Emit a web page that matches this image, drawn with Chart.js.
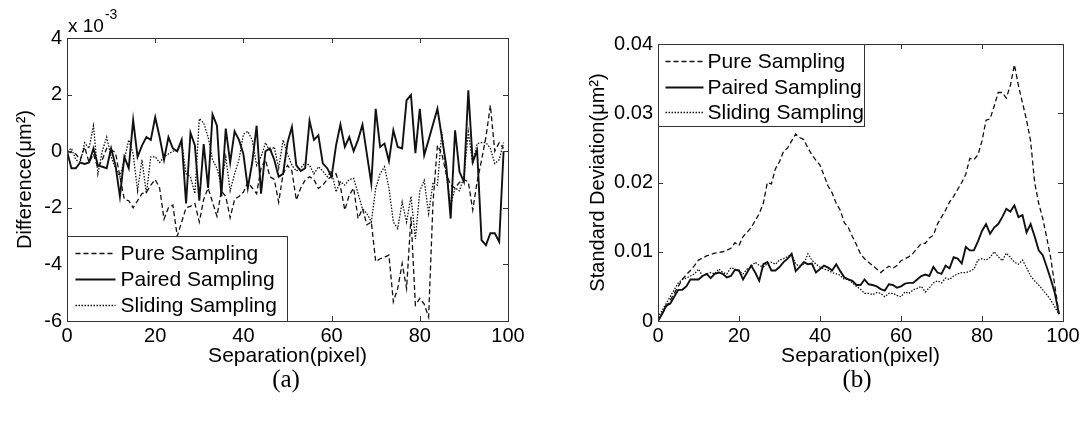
<!DOCTYPE html>
<html>
<head>
<meta charset="utf-8">
<script src="https://cdn.jsdelivr.net/npm/chart.js@4.4.0/dist/chart.umd.min.js"></script>
<style>
  html, body { margin: 0; padding: 0; background: #fff; }
  #wrap { position: relative; width: 1091px; height: 426px; overflow: hidden; }
  .panel { position: absolute; top: 0; height: 370px; }
  .cap { position: absolute; top: 365px; font: 25px "Liberation Serif", "Times New Roman", serif; color: #000; transform: translateX(-50%); }
</style>
</head>
<body>
<div id="wrap">
  <div class="panel" style="left:0;width:545px"><canvas id="diffChart" width="545" height="370"></canvas></div>
  <div class="panel" style="left:545px;width:546px"><canvas id="stdChart" width="546" height="370"></canvas></div>
  <div class="cap" style="left:286px">(a)</div>
  <div class="cap" style="left:857px">(b)</div>
</div>
<script>
// separation in pixels (shared x values)
const separation = [
  0, 1, 2, 3, 4, 5, 6, 7, 8, 9, 10, 11, 12, 13, 14, 15, 16, 17, 18, 19,
  20, 21, 22, 23, 24, 25, 26, 27, 28, 29, 30, 31, 32, 33, 34, 35, 36, 37, 38, 39,
  40, 41, 42, 43, 44, 45, 46, 47, 48, 49, 50, 51, 52, 53, 54, 55, 56, 57, 58, 59,
  60, 61, 62, 63, 64, 65, 66, 67, 68, 69, 70, 71, 72, 73, 74, 75, 76, 77, 78, 79,
  80, 81, 82, 83, 84, 85, 86, 87, 88, 89, 90, 91, 92, 93, 94, 95, 96, 97, 98, 99
];

// (a) difference, in units of 1e-3 um^2
const diffPure = [
  0, -0.05, -0.1, -0.3, 0.15, -0.4, -0.1, -0.6, -0.3, 0.1, 0.05, -0.05, -0.9, -1.7, -1.75, -2.0, -1.75, -1.5, -1.45, -1.2,
  -1.0, -1.3, -2.4, -2.0, -1.9, -3.0, -2.5, -2.0, -1.95, -1.85, -2.5, -1.7, -1.3, -1.8, -2.3, -1.4, -1.6, -2.35, -1.7, -1.6,
  -1.45, -1.1, -1.3, -1.5, -0.6, -0.3, -0.9, -1.0, -1.8, -0.8, -0.5, -0.7, -1.73, -1.3, -1.02, -0.9, -1.0, -1.32, -1.2, -1.0,
  -0.9, -0.8, -1.26, -2.08, -1.55, -1.3, -2.38, -2.03, -2.6, -2.5, -3.9, -3.8, -3.75, -3.67, -5.32, -4.85, -3.97, -4.85, -2.32, -5.44,
  -5.2, -5.4, -5.86, -1.79, 0.21, -0.1, -0.8, -1.2, -1.3, -1.1, -1.0, -1.08, -2.08, -1.08, -0.32, 0.5, 1.62, 0.0, 0.3, 0.1
];
const diffPaired = [
  0, -0.6, -0.6, -0.4, -0.45, -0.4, 0.1, -0.5, -0.55, -0.6, 0.1, -0.5, -1.6, -0.2, -0.6, 1.1, -0.2, 0.2, 0.5, 0.4,
  1.2, 0.5, -0.3, 0.5, 0.1, 0.0, 0.4, -1.85, 0.65, 0.2, -1.75, 0.25, -1.3, 1.3, 0.9, -1.6, 0.8, -0.4, 0.7, 0.4,
  -0.1, -1.3, -0.4, 0.9, -1.5, 0.0, 0.1, -0.3, -0.9, -0.8, 0.3, 0.86, -0.5, -0.7, -0.6, 1.08, 0.4, 0.56, -0.43, -0.6,
  -0.9, 0.2, 0.94, 0.15, 0.5, 0.0, 0.4, 0.94, -0.1, -1.14, 1.5, 0.15, 0.27, -0.35, 0.74, 0.15, 0.1, 1.8, 1.98, -0.07,
  1.5, -0.14, 0.4, 0.95, 1.5, 0.5, -0.5, -2.38, 0.74, -0.73, -1.08, 2.15, -0.38, 0.03, -3.14, -3.32, -2.9, -2.9, -3.2, 0.0
];
const diffSliding = [
  0, 0.1, -0.3, -0.4, 0.3, 0.1, 0.9, -0.8, 0.0, 0.5, -0.2, -0.6, -0.9, -0.3, 0.4, -0.1, -1.4, -0.3, -1.5, -0.2,
  -0.2, -0.4, -0.2, -0.1, 0.0, 0.0, 0.3, -0.8, -0.9, -1.5, 1.15, 1.0, 0.5, -0.3, -0.6, -1.2, -0.2, -1.4, -0.8, -0.3,
  0.6, 0.7, 0.4, -0.5, -0.2, 0.3, 0.0, 0.15, -0.6, 0.4, -0.1, -0.5, -0.7, -0.6, -0.4, -0.5, -0.8, -0.55, -0.7, -0.9,
  -0.7, -1.44, -1.08, -1.2, -1.0, -0.96, -1.5, -2.03, -2.2, -2.5, -1.32, -0.8, -0.55, -1.3, -2.5, -2.73, -1.79, -2.5, -1.6, -3.1,
  -1.4, -1.03, -2.2, -1.1, -1.2, 0.68, -0.8, -1.9, -1.3, -1.4, -0.9, 0.68, -0.44, 0.27, 0.3, 0.3, 0.1, -0.44, -0.3, 0.3
];

// (b) standard deviation, um^2
const stdPure = [
  0, 0.001, 0.002, 0.003, 0.004, 0.005, 0.006, 0.0067, 0.0073, 0.008, 0.0088, 0.0091, 0.0094, 0.0096, 0.0098, 0.0099, 0.01, 0.0102, 0.0105, 0.0113,
  0.0109, 0.0122, 0.0128, 0.0135, 0.0145, 0.0155, 0.017, 0.02, 0.0198, 0.022, 0.023, 0.0245, 0.025, 0.026, 0.027, 0.0265, 0.0262, 0.025, 0.024, 0.0232,
  0.0225, 0.021, 0.0195, 0.0185, 0.017, 0.016, 0.0142, 0.0135, 0.0122, 0.011, 0.0097, 0.009, 0.0085, 0.008, 0.0075, 0.007, 0.0075, 0.0079, 0.0076, 0.008,
  0.0087, 0.009, 0.0093, 0.0098, 0.0105, 0.0112, 0.0112, 0.012, 0.0124, 0.014, 0.015, 0.016, 0.0172, 0.018, 0.019, 0.02, 0.0212, 0.0235, 0.0233, 0.024,
  0.026, 0.029, 0.0292, 0.031, 0.033, 0.033, 0.0322, 0.034, 0.037, 0.034, 0.0315, 0.029, 0.026, 0.02, 0.017, 0.0148, 0.012, 0.009, 0.005, 0.001
];
const stdPaired = [
  0, 0.001, 0.0022, 0.0025, 0.0035, 0.0045, 0.0045, 0.005, 0.006, 0.006, 0.006, 0.0065, 0.0068, 0.0062, 0.0068, 0.007, 0.0068, 0.0063, 0.0065, 0.0074,
  0.0073, 0.006, 0.007, 0.008, 0.007, 0.0058, 0.0082, 0.0085, 0.0073, 0.0073, 0.0078, 0.0085, 0.009, 0.0097, 0.0072, 0.0078, 0.0085, 0.0082, 0.0083, 0.007,
  0.0075, 0.008, 0.0077, 0.0073, 0.0082, 0.0072, 0.0063, 0.006, 0.0058, 0.0052, 0.0052, 0.006, 0.0053, 0.0052, 0.005, 0.0046, 0.0044, 0.0053, 0.0052, 0.0048,
  0.005, 0.0054, 0.0055, 0.0055, 0.006, 0.0065, 0.0067, 0.0065, 0.0078, 0.007, 0.0068, 0.008, 0.0076, 0.0092, 0.009, 0.0083, 0.0107, 0.0102, 0.0102, 0.0115,
  0.013, 0.014, 0.0126, 0.0135, 0.014, 0.015, 0.0162, 0.0158, 0.0167, 0.015, 0.0153, 0.0128, 0.014, 0.0122, 0.0102, 0.0095, 0.0078, 0.006, 0.004, 0.001
];
const stdSliding = [
  0.0005, 0.0015, 0.0025, 0.0035, 0.0045, 0.0055, 0.006, 0.0062, 0.0065, 0.0068, 0.0075, 0.0065, 0.0068, 0.007, 0.0068, 0.0075, 0.007, 0.0068, 0.0077, 0.0075,
  0.0072, 0.0068, 0.0075, 0.0078, 0.0085, 0.008, 0.0078, 0.0083, 0.0085, 0.0082, 0.0088, 0.009, 0.0093, 0.0096, 0.0082, 0.008, 0.0082, 0.0097, 0.0088, 0.0082,
  0.0078, 0.0075, 0.0073, 0.007, 0.0068, 0.0066, 0.006, 0.006, 0.0055, 0.005, 0.0046, 0.004, 0.004, 0.0038, 0.0041, 0.004, 0.0035, 0.004, 0.004, 0.0037,
  0.0035, 0.0042, 0.004, 0.0045, 0.0047, 0.005, 0.0042, 0.0048, 0.0055, 0.0058, 0.0055, 0.0062, 0.006, 0.0065, 0.0068, 0.007, 0.007, 0.0072, 0.0075, 0.0088,
  0.009, 0.0088, 0.0092, 0.01, 0.0093, 0.0087, 0.0098, 0.0092, 0.0085, 0.0082, 0.0088, 0.0077, 0.0065, 0.0058, 0.0052, 0.0045, 0.0038, 0.003, 0.002, 0.001
];

const seriesNames = ['Pure Sampling', 'Paired Sampling', 'Sliding Sampling'];
const xTicks = [0, 20, 40, 60, 80, 100];

const INK = '#111';
const FONT = '"Liberation Sans", Arial, sans-serif';
const lineStyles = [
  { borderDash: [5, 3], borderWidth: 1.3 },
  { borderDash: [], borderWidth: 1.9 },
  { borderDash: [1.5, 1.5], borderWidth: 1.3 }
];

function toPoints(ys) {
  return ys.map((y, i) => ({ x: separation[i], y: y }));
}

function makeDatasets(list) {
  return list.map((ys, i) => ({
    label: seriesNames[i],
    data: toPoints(ys),
    borderColor: INK,
    borderDash: lineStyles[i].borderDash,
    borderWidth: lineStyles[i].borderWidth,
    pointRadius: 0,
    tension: 0,
    fill: false
  }));
}

// box frame, inward ticks, in-axes legend, exponent note
const matlabAxes = {
  id: 'matlabAxes',
  afterDatasetsDraw(chart, args, opts) {
    const { ctx, chartArea: a, scales: { x, y } } = chart;
    ctx.save();
    ctx.strokeStyle = '#333';
    ctx.lineWidth = 1;
    ctx.strokeRect(Math.round(a.left) + 0.5, Math.round(a.top) + 0.5, Math.round(a.right - a.left), Math.round(a.bottom - a.top));
    ctx.beginPath();
    x.ticks.forEach(t => {
      const px = Math.round(x.getPixelForValue(t.value)) + 0.5;
      ctx.moveTo(px, a.bottom); ctx.lineTo(px, a.bottom - 5);
      ctx.moveTo(px, a.top); ctx.lineTo(px, a.top + 5);
    });
    y.ticks.forEach(t => {
      const py = Math.round(y.getPixelForValue(t.value)) + 0.5;
      ctx.moveTo(a.left, py); ctx.lineTo(a.left + 5, py);
      ctx.moveTo(a.right, py); ctx.lineTo(a.right - 5, py);
    });
    ctx.stroke();

    // legend box
    const lw = opts.width, lh = opts.height;
    const lx = Math.round(a.left) + 0.5;
    const ly = opts.corner === 'bottom' ? Math.round(a.bottom - lh) + 0.5 : Math.round(a.top) + 0.5;
    ctx.fillStyle = '#fff';
    ctx.fillRect(lx, ly, lw, lh);
    ctx.strokeStyle = '#333';
    ctx.strokeRect(lx, ly, lw, lh);
    ctx.font = '21px ' + FONT;
    ctx.textBaseline = 'middle';
    ctx.textAlign = 'left';
    chart.data.datasets.forEach((ds, i) => {
      const ry = ly + opts.rows[i];
      ctx.strokeStyle = INK;
      ctx.lineWidth = ds.borderWidth;
      ctx.setLineDash(ds.borderDash);
      ctx.beginPath();
      ctx.moveTo(lx + opts.sample[0], ry);
      ctx.lineTo(lx + opts.sample[1], ry);
      ctx.stroke();
      ctx.setLineDash([]);
      ctx.fillStyle = '#000';
      ctx.fillText(ds.label, lx + opts.textX, ry + 1);
    });

    if (opts.exponent) {
      ctx.fillStyle = '#000';
      ctx.textBaseline = 'alphabetic';
      ctx.font = '19px ' + FONT;
      ctx.fillText('x 10', a.left + 1, a.top - 6);
      const w = ctx.measureText('x 10').width;
      ctx.font = '14px ' + FONT;
      ctx.fillText('-3', a.left + 2 + w, a.top - 19);
    }
    ctx.restore();
  }
};

function axisOptions(yMin, yMax, yStep, yTitle, yWidth, yTitlePad, yFmt) {
  return {
    x: {
      type: 'linear', min: 0, max: 100,
      afterBuildTicks: s => { s.ticks = xTicks.map(v => ({ value: v })); },
      grid: { display: false, drawTicks: false },
      border: { display: false },
      ticks: { color: '#000', font: { family: FONT, size: 20 }, padding: 3, maxRotation: 0 },
      title: { display: true, text: 'Separation(pixel)', color: '#000', font: { family: FONT, size: 21 }, padding: { top: 0, bottom: 1 } },
      afterFit: s => { s.height = 49; }
    },
    y: {
      type: 'linear', min: yMin, max: yMax,
      grid: { display: false, drawTicks: false },
      border: { display: false },
      ticks: { stepSize: yStep, color: '#000', font: { family: FONT, size: 20 }, padding: 5, callback: yFmt },
      title: { display: true, text: yTitle, color: '#000', font: { family: FONT, size: 20 }, padding: { top: yTitlePad, bottom: 0 } },
      afterFit: s => { s.width = yWidth; }
    }
  };
}

document.addEventListener('DOMContentLoaded', () => {
  Chart.defaults.font.family = FONT;

  new Chart(document.getElementById('diffChart').getContext('2d'), {
    type: 'line',
    data: { datasets: makeDatasets([diffPure, diffPaired, diffSliding]) },
    options: {
      responsive: false, animation: false,
      layout: { padding: { left: 0, right: 37, top: 38, bottom: 0 } },
      plugins: {
        legend: { display: false }, tooltip: { enabled: false },
        matlabAxes: { corner: 'bottom', width: 220, height: 85, rows: [17, 43, 69], sample: [8, 48], textX: 53, exponent: true }
      },
      scales: axisOptions(-6, 4, 2, 'Difference(\u03bcm\u00b2)', 67, 13, v => String(v))
    },
    plugins: [matlabAxes]
  });

  new Chart(document.getElementById('stdChart').getContext('2d'), {
    type: 'line',
    data: { datasets: makeDatasets([stdPure, stdPaired, stdSliding]) },
    options: {
      responsive: false, animation: false,
      layout: { padding: { left: 0, right: 28, top: 44, bottom: 0 } },
      plugins: {
        legend: { display: false }, tooltip: { enabled: false },
        matlabAxes: { corner: 'top', width: 206, height: 82, rows: [17, 43, 68], sample: [7, 45], textX: 49, exponent: false }
      },
      scales: axisOptions(0, 0.04, 0.01, 'Standard Deviation(\u03bcm\u00b2)', 113, 41, v => v === 0 ? '0' : Number(v).toFixed(2))
    },
    plugins: [matlabAxes]
  });
});
</script>
</body>
</html>
